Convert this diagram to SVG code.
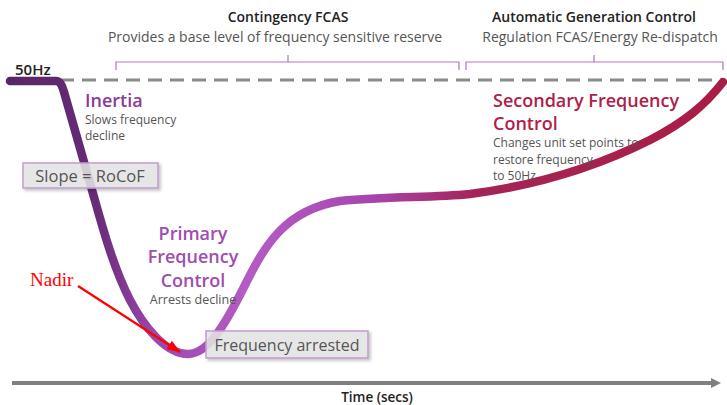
<svg xmlns="http://www.w3.org/2000/svg" width="727" height="405" viewBox="0 0 727 405">
<defs>
<style>
.t{font-family:"Open Sans","Noto Sans",sans-serif;fill:#555}
.h{font-family:"Open Sans","Noto Sans",sans-serif;font-weight:600;fill:#222}
.br{fill:none;stroke:#b274c0;stroke-width:1.2}
.box{fill:#e6e6e6;fill-opacity:0.85;stroke:#c39ad0;stroke-width:1.5}
.pf{font-family:"Open Sans","Noto Sans",sans-serif;font-weight:600;font-size:18px;fill:#a04cb0}
</style>
<linearGradient id="cg" gradientUnits="userSpaceOnUse" x1="10" y1="0" x2="725" y2="0">
<stop offset="0" stop-color="#582666"/>
<stop offset="0.12" stop-color="#662c76"/>
<stop offset="0.2" stop-color="#9a46ac"/>
<stop offset="0.33" stop-color="#b45cc4"/>
<stop offset="0.5" stop-color="#a846b0"/>
<stop offset="0.65" stop-color="#a42458"/>
<stop offset="1" stop-color="#a81e44"/>
</linearGradient>
<marker id="ar" viewBox="0 0 14 10" refX="13" refY="5" markerWidth="14" markerHeight="10" orient="auto" markerUnits="userSpaceOnUse">
<path d="M0,0 L14,5 L0,10 z" fill="#ff0000"/>
</marker>
<marker id="ax" viewBox="0 0 10 10" refX="5" refY="5" markerWidth="2.6" markerHeight="3" orient="auto" markerUnits="strokeWidth">
<path d="M0,0 L10,5 L0,10 z" fill="#808080"/>
</marker>
<filter id="sh" x="-10%" y="-20%" width="130%" height="160%">
<feDropShadow dx="2" dy="2" stdDeviation="1.5" flood-color="#000" flood-opacity="0.25"/>
</filter>
</defs>
<g id="connectors">
<line x1="60" y1="80" x2="722" y2="80" stroke="#8a8a8a" stroke-width="3" stroke-dasharray="14,8"/>
<path id="curve" d="M10,81 L56,81 C60,81 62,85 64,92 L92,190 C100,218 112,265 130,300 C143,325 165,354 188,354 C208,354 225,325 245,285 C265,245 285,210 340,201 C390,196 430,198 470,194 C540,185 600,165 650,140 C685,122 705,105 723,82" fill="none" stroke="url(#cg)" stroke-width="8.5" stroke-linecap="round"/>
<line x1="78" y1="286" x2="180" y2="352" stroke="#ff0000" stroke-width="2.2" marker-end="url(#ar)"/>
<line x1="12" y1="383" x2="716" y2="383" stroke="#808080" stroke-width="4" marker-end="url(#ax)"/>
</g>
<g id="contingency">
<path class="br" d="M116,70 V62 H459 V70 M288,62 V55"/>
<text class="h" x="288" y="22" text-anchor="middle" font-size="14">Contingency FCAS</text>
<text class="t" x="275" y="42" text-anchor="middle" font-size="14">Provides a base level of frequency sensitive reserve</text>
</g>
<g id="agc">
<path class="br" d="M466,70 V62 H723 V70 M594,62 V55"/>
<text class="h" x="594" y="22" text-anchor="middle" font-size="14">Automatic Generation Control</text>
<text class="t" x="600" y="42" text-anchor="middle" font-size="14">Regulation FCAS/Energy Re-dispatch</text>
</g>
<g id="hz50">
<text class="h" x="15" y="75" font-size="15">50Hz</text>
</g>
<g id="inertia">
<text x="85" y="107" font-family="Open Sans,sans-serif" font-weight="600" font-size="18" fill="#8a3a98">Inertia</text>
<text class="t" x="85" y="124" font-size="12">Slows frequency</text>
<text class="t" x="85" y="140" font-size="12">decline</text>
</g>
<g id="slope">
<rect class="box" x="23" y="163" width="135" height="25" filter="url(#sh)"/>
<text class="t" x="90" y="182" text-anchor="middle" font-size="16.5">Slope = RoCoF</text>
</g>
<g id="primary">
<text class="pf" x="193" y="240" text-anchor="middle">Primary</text>
<text class="pf" x="193" y="263" text-anchor="middle">Frequency</text>
<text class="pf" x="193" y="287" text-anchor="middle">Control</text>
<text class="t" x="193" y="304" text-anchor="middle" font-size="12.5">Arrests decline</text>
</g>
<g id="arrested">
<rect class="box" x="206" y="331" width="162" height="27" filter="url(#sh)"/>
<text class="t" x="287" y="351" text-anchor="middle" font-size="16">Frequency arrested</text>
</g>
<g id="nadir">
<text x="30" y="286" font-family="Liberation Serif,serif" font-size="19" fill="#ff0000">Nadir</text>
</g>
<g id="secondary">
<text x="493" y="107" font-family="Open Sans,sans-serif" font-weight="600" font-size="18" fill="#b0204a">Secondary Frequency</text>
<text x="493" y="130" font-family="Open Sans,sans-serif" font-weight="600" font-size="18" fill="#b0204a">Control</text>
<text class="t" x="493" y="147" font-size="12">Changes unit set points to</text>
<text class="t" x="493" y="164" font-size="12">restore frequency</text>
<text class="t" x="493" y="180" font-size="12">to 50Hz</text>
</g>
<g id="time">
<text class="h" x="377" y="402" text-anchor="middle" font-size="13.5">Time (secs)</text>
</g>
</svg>
